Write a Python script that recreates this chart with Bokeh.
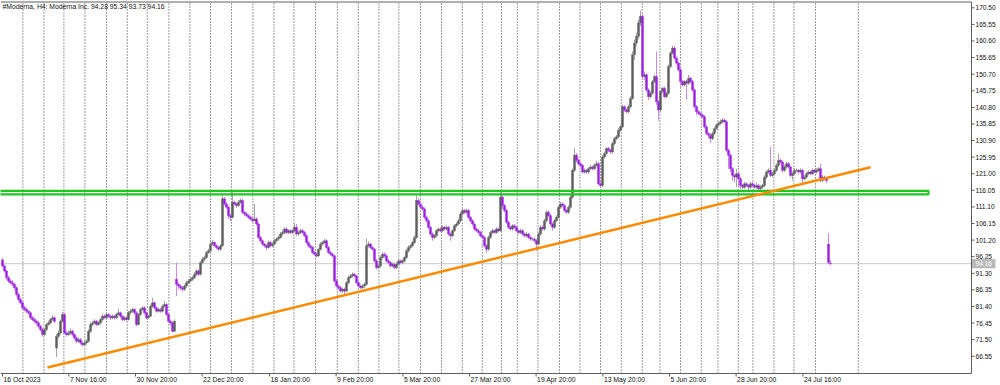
from bokeh.plotting import figure
from bokeh.models import Range1d, ColumnDataSource
from bokeh.core.properties import value
from bokeh.embed import file_html
from bokeh.resources import INLINE

# ---------------- data ----------------
opens = [
 95.3, 93.5, 92.0, 90.0, 89.0, 88.5, 88.0, 87.0, 85.0, 83.5,
 82.5, 81.0, 80.5, 80.0, 79.5, 78.0, 77.5, 77.0, 76.5, 75.5,
 74.5, 73.0, 74.5, 76.0, 76.5, 77.5, 78.0, 69.0, 72.5, 73.5,
 77.0, 79.0, 73.5, 73.0, 73.5, 74.0, 73.0, 72.0, 71.0, 71.5,
 70.5, 70.0, 70.5, 71.0, 74.0, 76.0, 76.5, 77.0, 76.0, 76.5,
 77.5, 78.5, 78.0, 79.0, 78.5, 78.0, 78.5, 78.0, 79.0, 79.5,
 78.5, 77.5, 78.0, 77.5, 79.5, 80.0, 80.5, 79.5, 76.0, 79.0,
 80.5, 81.0, 79.5, 78.0, 78.5, 81.5, 82.5, 81.0, 80.0, 80.5,
 80.0, 81.5, 82.0, 79.0, 77.0, 76.5, 74.0, 89.5, 88.0, 87.5,
 87.0, 86.5, 87.5, 88.5, 89.0, 89.5, 90.0, 91.0, 92.0, 91.0,
 94.5, 95.5, 96.0, 97.5, 98.0, 100.0, 100.5, 99.5, 99.0, 98.5,
 99.5, 113.5, 112.0, 111.0, 108.5, 108.0, 112.5, 112.0, 111.5, 112.5,
 113.0, 109.5, 109.0, 108.5, 108.0, 107.5, 107.0, 107.5, 106.0, 102.0,
 101.0, 100.0, 99.5, 99.0, 100.5, 99.5, 100.0, 101.0, 101.5, 102.0,
 103.0, 103.5, 104.5, 103.5, 104.0, 103.5, 104.0, 105.0, 103.0, 103.5,
 104.0, 103.5, 102.5, 100.5, 99.5, 99.0, 97.5, 97.0, 96.5, 98.5,
 100.0, 100.5, 101.0, 99.0, 97.5, 97.0, 96.5, 89.0, 87.5, 87.0,
 86.0, 86.5, 86.0, 88.5, 90.0, 90.5, 91.0, 90.5, 88.5, 87.5,
 87.0, 87.5, 88.0, 99.5, 100.0, 99.0, 98.5, 95.0, 93.0, 93.5,
 96.0, 97.0, 96.5, 95.0, 94.5, 93.5, 94.0, 93.0, 94.0, 95.0,
 94.5, 95.0, 96.0, 98.0, 99.0, 99.5, 100.5, 102.0, 113.0, 112.0,
 111.0, 110.5, 108.0, 107.0, 105.0, 103.0, 102.0, 102.5, 104.0, 104.5,
 104.0, 105.0, 104.5, 105.0, 103.0, 102.5, 104.0, 105.5, 106.0, 107.0,
 109.0, 110.0, 109.5, 110.0, 108.0, 107.0, 106.0, 104.5, 104.0, 103.5,
 102.5, 102.0, 99.5, 98.5, 102.0, 103.5, 104.0, 103.5, 104.5, 104.0,
 114.0, 111.5, 110.0, 106.5, 105.0, 104.5, 105.5, 105.0, 104.0, 103.5,
 104.0, 103.0, 102.5, 103.0, 102.0, 101.5, 101.5, 101.0, 100.0, 103.0,
 105.0, 104.5, 107.0, 109.5, 108.5, 106.0, 105.0, 107.0, 108.0, 111.0,
 112.0, 111.5, 110.0, 109.5, 111.0, 114.0, 122.0, 126.5, 125.0, 124.0,
 123.5, 121.5, 122.0, 121.5, 122.5, 123.0, 122.5, 123.5, 124.0, 118.0,
 117.5, 126.0, 127.0, 128.5, 128.0, 127.5, 130.0, 131.5, 132.0, 134.0,
 135.0, 141.0, 140.0, 139.5, 141.0, 143.5, 156.5, 160.0, 162.0, 166.0,
 168.0, 150.0, 150.5, 146.0, 144.0, 145.0, 148.5, 150.0, 142.5, 140.0,
 145.5, 146.5, 144.0, 145.0, 153.0, 157.0, 158.5, 155.5, 154.0, 152.0,
 148.5, 147.5, 148.5, 148.0, 149.5, 148.5, 146.0, 141.0, 139.5, 139.0,
 138.5, 138.0, 135.0, 133.0, 132.5, 131.5, 133.0, 134.5, 135.5, 136.0,
 136.5, 137.0, 136.5, 128.0, 126.5, 122.5, 120.5, 120.0, 121.0, 119.5,
 117.5, 117.0, 118.0, 117.5, 117.0, 118.0, 117.5, 117.0, 117.5, 116.5,
 117.0, 117.5, 120.0, 121.5, 122.0, 120.5, 121.0, 122.0, 123.5, 125.0,
 124.5, 122.0, 123.0, 124.0, 123.0, 120.5, 121.0, 122.0, 122.0, 121.5,
 122.0, 119.5, 120.0, 121.0, 121.5, 121.0, 122.0, 121.5, 122.0, 122.5,
 119.0, 120.0, 119.5, 100.0, 94.28]

highs = [
 95.8, 94.0, 92.4, 90.6, 89.6, 89.3, 88.5, 87.4, 85.6, 84.0,
 83.0, 81.6, 81.2, 80.4, 79.9, 78.6, 78.2, 77.5, 77.0, 76.0,
 75.0, 75.0, 76.6, 77.2, 78.0, 78.8, 78.5, 73.2, 74.2, 77.5,
 79.8, 79.4, 74.2, 74.3, 74.8, 74.5, 73.4, 72.5, 72.2, 72.0,
 71.0, 71.2, 71.6, 74.6, 76.8, 77.2, 77.6, 77.4, 77.0, 78.0,
 79.2, 79.0, 79.6, 79.4, 78.9, 79.0, 78.9, 79.6, 80.8, 79.9,
 78.8, 78.5, 78.4, 80.0, 80.6, 81.0, 80.9, 80.0, 79.4, 81.0,
 81.5, 81.4, 79.9, 78.9, 82.0, 84.0, 82.8, 81.4, 81.0, 80.9,
 82.0, 83.0, 82.4, 79.4, 77.5, 77.0, 77.5, 94.5, 88.5, 88.0,
 87.5, 88.0, 89.0, 89.6, 90.2, 90.5, 91.6, 92.6, 92.4, 95.0,
 96.2, 96.6, 98.0, 98.6, 100.6, 101.4, 100.9, 100.0, 99.4, 100.0,
 114.5, 114.0, 112.6, 111.5, 109.0, 115.5, 113.0, 112.4, 113.2, 113.6,
 113.5, 110.0, 109.6, 109.0, 108.5, 108.0, 112.0, 108.0, 106.5, 102.6,
 101.4, 100.5, 100.0, 101.0, 101.0, 100.6, 101.6, 102.0, 102.6, 103.6,
 104.2, 105.0, 105.0, 104.5, 104.4, 104.5, 106.2, 106.0, 104.0, 104.6,
 104.5, 104.0, 103.0, 101.0, 100.0, 99.5, 98.0, 97.6, 99.0, 100.6,
 101.0, 101.6, 101.4, 99.5, 98.0, 97.5, 96.8, 89.6, 88.0, 87.5,
 87.0, 87.0, 89.0, 90.6, 91.0, 91.6, 91.4, 90.8, 89.0, 88.0,
 88.0, 88.6, 101.7, 100.8, 100.4, 99.4, 98.8, 95.5, 94.2, 96.6,
 97.6, 97.5, 97.0, 95.5, 95.0, 94.6, 94.5, 94.6, 95.6, 95.4,
 95.6, 96.5, 98.6, 99.6, 100.0, 101.0, 102.6, 114.5, 113.6, 112.5,
 111.6, 111.0, 108.5, 107.5, 105.5, 103.5, 103.0, 104.6, 105.0, 105.0,
 105.6, 105.4, 105.6, 105.4, 103.5, 104.6, 106.0, 106.6, 107.6, 109.6,
 110.6, 110.5, 110.6, 110.5, 108.5, 107.4, 106.4, 105.0, 104.5, 104.0,
 103.0, 102.4, 100.0, 102.6, 104.0, 104.6, 104.4, 105.0, 105.0, 116.0,
 114.5, 112.0, 110.5, 107.0, 105.5, 106.0, 106.0, 105.5, 104.5, 104.6,
 104.5, 103.6, 103.6, 103.4, 102.5, 102.0, 102.0, 101.5, 103.6, 105.6,
 105.6, 107.6, 110.0, 110.0, 109.0, 106.5, 107.5, 108.6, 111.6, 112.6,
 112.5, 112.0, 110.5, 111.6, 114.6, 122.6, 128.8, 127.2, 125.6, 124.6,
 124.0, 122.6, 122.5, 123.0, 123.6, 123.4, 124.0, 124.8, 124.5, 118.5,
 126.6, 127.6, 129.0, 129.0, 128.5, 130.6, 132.0, 132.6, 134.6, 135.6,
 141.6, 141.4, 140.5, 141.6, 144.2, 157.5, 161.0, 163.0, 167.0, 169.7,
 168.5, 151.5, 151.0, 146.5, 145.6, 149.0, 150.6, 157.5, 143.0, 146.0,
 147.0, 147.0, 145.6, 153.6, 157.6, 159.2, 159.0, 156.0, 154.5, 152.5,
 149.0, 149.0, 149.0, 150.5, 150.0, 149.0, 146.5, 141.5, 140.0, 139.5,
 139.0, 138.5, 135.5, 133.5, 133.0, 133.6, 135.0, 136.0, 136.6, 137.2,
 137.6, 137.5, 137.0, 128.5, 127.0, 123.0, 121.0, 122.5, 121.5, 120.0,
 118.0, 118.6, 118.5, 118.0, 118.6, 118.5, 118.0, 118.4, 118.0, 117.6,
 118.0, 120.6, 122.0, 122.6, 129.0, 121.6, 122.5, 124.0, 127.0, 125.5,
 125.0, 123.6, 124.6, 124.5, 123.5, 121.6, 122.6, 122.6, 122.4, 122.6,
 122.5, 120.6, 121.6, 122.0, 122.0, 122.6, 122.4, 122.6, 123.0, 124.0,
 120.6, 120.4, 120.0, 103.2, 95.34]

lows = [
 93.0, 91.5, 89.4, 88.4, 88.0, 87.4, 86.2, 84.3, 82.8, 82.0,
 80.4, 80.0, 79.4, 78.8, 77.5, 77.0, 76.4, 75.9, 75.0, 73.9,
 72.4, 72.6, 74.0, 75.6, 76.0, 77.0, 76.4, 66.3, 71.8, 73.0,
 76.6, 73.0, 72.4, 72.6, 73.0, 72.5, 71.4, 70.4, 70.6, 70.0,
 69.4, 69.6, 70.0, 70.6, 73.5, 75.4, 76.0, 75.5, 75.6, 76.0,
 77.0, 77.6, 77.5, 78.0, 77.4, 77.6, 77.5, 77.6, 78.6, 78.0,
 77.0, 77.0, 77.0, 77.2, 79.0, 79.6, 79.0, 75.5, 75.8, 78.6,
 80.0, 79.0, 77.6, 77.6, 78.2, 81.0, 80.6, 79.6, 79.6, 79.5,
 79.6, 81.0, 78.6, 76.5, 75.8, 73.5, 73.8, 84.5, 86.5, 86.2,
 85.8, 86.0, 87.0, 88.0, 88.6, 89.0, 89.6, 90.5, 90.5, 90.6,
 94.0, 95.0, 95.6, 97.0, 97.6, 99.6, 99.0, 98.5, 98.0, 98.0,
 99.2, 111.5, 110.5, 107.5, 106.8, 107.6, 111.5, 110.8, 111.0, 112.0,
 109.0, 108.4, 108.0, 107.4, 107.0, 106.4, 106.8, 105.5, 101.5, 100.5,
 99.5, 99.0, 98.2, 98.6, 99.0, 99.0, 99.6, 100.5, 101.0, 101.6,
 102.5, 103.0, 103.0, 103.0, 103.0, 103.0, 103.6, 102.5, 102.5, 103.0,
 103.0, 102.0, 100.0, 99.0, 98.5, 97.0, 96.5, 96.0, 96.2, 98.0,
 99.5, 100.0, 98.5, 97.0, 96.5, 96.0, 88.5, 87.0, 86.4, 85.5,
 85.4, 85.0, 85.6, 88.0, 89.6, 90.0, 90.0, 88.0, 87.0, 86.5,
 86.6, 87.0, 87.6, 99.0, 98.6, 98.0, 94.5, 92.4, 92.5, 93.0,
 95.5, 96.0, 94.5, 94.0, 93.0, 93.0, 92.5, 92.6, 93.5, 94.0,
 94.0, 94.6, 95.6, 97.5, 98.5, 99.0, 100.0, 101.6, 111.5, 110.5,
 110.0, 107.5, 106.5, 104.5, 102.5, 101.0, 101.5, 102.0, 103.5, 103.5,
 103.5, 104.0, 104.0, 102.5, 101.0, 102.0, 103.6, 105.0, 105.6, 106.5,
 108.5, 109.0, 109.0, 107.5, 106.5, 105.5, 104.0, 103.5, 103.0, 102.0,
 101.5, 99.0, 97.4, 98.0, 101.5, 103.0, 103.0, 103.0, 103.5, 103.6,
 110.5, 109.5, 106.0, 104.5, 104.0, 104.0, 104.5, 103.5, 103.0, 103.0,
 102.5, 102.0, 102.0, 101.6, 101.0, 101.0, 100.5, 98.0, 99.6, 102.5,
 104.0, 104.0, 106.5, 108.0, 105.5, 104.0, 104.5, 106.5, 107.5, 110.5,
 111.0, 109.5, 109.0, 109.0, 110.5, 113.5, 121.5, 124.5, 123.5, 122.8,
 121.0, 121.0, 121.0, 121.0, 122.0, 122.0, 122.0, 123.0, 117.5, 117.0,
 117.0, 125.5, 126.5, 127.5, 127.0, 127.0, 129.5, 131.0, 131.5, 133.5,
 134.5, 139.5, 139.0, 139.0, 140.5, 143.0, 155.0, 159.0, 161.0, 165.0,
 149.0, 149.0, 145.5, 143.0, 143.5, 144.5, 148.0, 141.5, 136.8, 139.5,
 145.0, 143.5, 143.5, 144.5, 152.5, 156.5, 155.0, 153.5, 151.5, 147.0,
 147.0, 147.0, 143.0, 147.5, 148.0, 145.5, 140.5, 138.5, 138.5, 138.0,
 137.5, 134.5, 132.5, 131.5, 130.2, 131.0, 132.5, 134.0, 135.0, 135.5,
 136.0, 136.0, 127.5, 122.5, 121.5, 119.0, 118.5, 117.0, 117.0, 116.5,
 116.5, 116.5, 117.0, 116.0, 116.5, 117.0, 116.5, 116.5, 116.0, 116.0,
 116.5, 117.0, 119.5, 121.0, 120.0, 120.0, 120.5, 121.5, 123.0, 124.0,
 121.5, 121.5, 122.5, 122.5, 120.0, 119.0, 120.5, 121.5, 121.0, 121.0,
 117.5, 119.0, 119.5, 120.5, 120.5, 120.5, 121.0, 121.0, 121.5, 118.5,
 118.5, 119.0, 118.2, 94.0, 93.73]

closes = [
 93.5, 92.0, 90.0, 89.0, 88.5, 88.0, 87.0, 85.0, 83.5, 82.5,
 81.0, 80.5, 80.0, 79.5, 78.0, 77.5, 77.0, 76.5, 75.5, 74.5,
 73.0, 74.5, 76.0, 76.5, 77.5, 78.0, 77.0, 72.5, 73.5, 77.0,
 79.0, 73.5, 73.0, 73.5, 74.0, 73.0, 72.0, 71.0, 71.5, 70.5,
 70.0, 70.5, 71.0, 74.0, 76.0, 76.5, 77.0, 76.0, 76.5, 77.5,
 78.5, 78.0, 79.0, 78.5, 78.0, 78.5, 78.0, 79.0, 79.5, 78.5,
 77.5, 78.0, 77.5, 79.5, 80.0, 80.5, 79.5, 76.0, 79.0, 80.5,
 81.0, 79.5, 78.0, 78.5, 81.5, 82.5, 81.0, 80.0, 80.5, 80.0,
 81.5, 82.0, 79.0, 77.0, 76.5, 74.0, 77.0, 88.0, 87.5, 87.0,
 86.5, 87.5, 88.5, 89.0, 89.5, 90.0, 91.0, 92.0, 91.0, 94.5,
 95.5, 96.0, 97.5, 98.0, 100.0, 100.5, 99.5, 99.0, 98.5, 99.5,
 113.5, 112.0, 111.0, 108.5, 108.0, 112.5, 112.0, 111.5, 112.5, 113.0,
 109.5, 109.0, 108.5, 108.0, 107.5, 107.0, 107.5, 106.0, 102.0, 101.0,
 100.0, 99.5, 99.0, 100.5, 99.5, 100.0, 101.0, 101.5, 102.0, 103.0,
 103.5, 104.5, 103.5, 104.0, 103.5, 104.0, 105.0, 103.0, 103.5, 104.0,
 103.5, 102.5, 100.5, 99.5, 99.0, 97.5, 97.0, 96.5, 98.5, 100.0,
 100.5, 101.0, 99.0, 97.5, 97.0, 96.5, 89.0, 87.5, 87.0, 86.0,
 86.5, 86.0, 88.5, 90.0, 90.5, 91.0, 90.5, 88.5, 87.5, 87.0,
 87.5, 88.0, 99.5, 100.0, 99.0, 98.5, 95.0, 93.0, 93.5, 96.0,
 97.0, 96.5, 95.0, 94.5, 93.5, 94.0, 93.0, 94.0, 95.0, 94.5,
 95.0, 96.0, 98.0, 99.0, 99.5, 100.5, 102.0, 113.0, 112.0, 111.0,
 110.5, 108.0, 107.0, 105.0, 103.0, 102.0, 102.5, 104.0, 104.5, 104.0,
 105.0, 104.5, 105.0, 103.0, 102.5, 104.0, 105.5, 106.0, 107.0, 109.0,
 110.0, 109.5, 110.0, 108.0, 107.0, 106.0, 104.5, 104.0, 103.5, 102.5,
 102.0, 99.5, 98.5, 102.0, 103.5, 104.0, 103.5, 104.5, 104.0, 114.0,
 111.5, 110.0, 106.5, 105.0, 104.5, 105.5, 105.0, 104.0, 103.5, 104.0,
 103.0, 102.5, 103.0, 102.0, 101.5, 101.5, 101.0, 100.0, 103.0, 105.0,
 104.5, 107.0, 109.5, 108.5, 106.0, 105.0, 107.0, 108.0, 111.0, 112.0,
 111.5, 110.0, 109.5, 111.0, 114.0, 122.0, 126.5, 125.0, 124.0, 123.5,
 121.5, 122.0, 121.5, 122.5, 123.0, 122.5, 123.5, 124.0, 118.0, 117.5,
 126.0, 127.0, 128.5, 128.0, 127.5, 130.0, 131.5, 132.0, 134.0, 135.0,
 141.0, 140.0, 139.5, 141.0, 143.5, 156.5, 160.0, 162.0, 166.0, 168.0,
 150.0, 150.5, 146.0, 144.0, 145.0, 148.5, 150.0, 142.5, 140.0, 145.5,
 146.5, 144.0, 145.0, 153.0, 157.0, 158.5, 155.5, 154.0, 152.0, 148.5,
 147.5, 148.5, 148.0, 149.5, 148.5, 146.0, 141.0, 139.5, 139.0, 138.5,
 138.0, 135.0, 133.0, 132.5, 131.5, 133.0, 134.5, 135.5, 136.0, 136.5,
 137.0, 136.5, 128.0, 126.5, 122.5, 120.5, 120.0, 121.0, 119.5, 117.5,
 117.0, 118.0, 117.5, 117.0, 118.0, 117.5, 117.0, 117.5, 116.5, 117.0,
 117.5, 120.0, 121.5, 122.0, 120.5, 121.0, 122.0, 123.5, 125.0, 124.5,
 122.0, 123.0, 124.0, 123.0, 120.5, 121.0, 122.0, 122.0, 121.5, 122.0,
 119.5, 120.0, 121.0, 121.5, 121.0, 122.0, 121.5, 122.0, 122.5, 119.0,
 120.0, 119.5, 119.0, 94.5, 94.16]

price_ticks = [66.55, 71.50, 76.45, 81.40, 86.35, 91.30, 96.25, 101.20, 106.15,
               111.10, 116.05, 121.00, 125.95, 130.90, 135.85, 140.80, 145.75,
               150.70, 155.65, 160.60, 165.55, 170.50]
time_tick_bars = [0, 33.2, 66.5, 99.8, 133.5, 166.8, 200.2, 233.5, 266.8, 300.2, 333.5, 366.8, 400.2]
time_tick_labels = ["16 Oct 2023", "7 Nov 16:00", "30 Nov 20:00", "22 Dec 20:00",
                    "18 Jan 20:00", "9 Feb 20:00", "5 Mar 20:00", "27 Mar 20:00",
                    "19 Apr 20:00", "13 May 20:00", "5 Jun 20:00", "28 Jun 20:00",
                    "24 Jul 16:00"]
week_bars = [10.2, 20.7, 30.7, 41.2, 52.0, 62.4, 72.4, 83.2, 93.7, 104.0, 114.5,
             125.2, 135.7, 145.7, 156.5, 167.4, 177.9, 188.2, 198.2, 209.0, 219.5,
             229.9, 239.9, 249.5, 257.4, 267.7, 278.5, 288.7, 299.0, 309.4, 319.9,
             328.7, 339.0, 349.4, 357.7, 367.9, 375.2, 385.7, 395.7, 406.5, 427.9]
zone_low, zone_high = 114.86, 115.9
zone_start_bar, zone_end_bar = -1.5, 463.0
trend_bars = [22.5, 434.0]
trend_prices = [63.2, 122.9]
last_price = 94.16
title_text = "#Moderna, H4:  Moderna Inc.   94.28 95.34 93.73 94.16"

# ---------------- layout of the chart window (in bar / price units) ----------------
# whole canvas; the price scale and time scale live inside it, as in the terminal
canvas_x = (-1.0, 499.0)
canvas_y = (57.82, 172.68)
chart_left, chart_right = -1.0, 484.5     # plotting area (bars)
chart_bottom, chart_top = 61.40, 172.23   # plotting area (price)

W, H = 1000, 385
px_x = (canvas_x[1] - canvas_x[0]) / W    # bars per pixel
px_y = (canvas_y[1] - canvas_y[0]) / H    # price per pixel

FONT = "Liberation Sans"
AXIS_COLOR = "#5e5e5e"
BULL_BODY, BULL_WICK = "#5c5c5c", "#a6a6a6"
BEAR_BODY, BEAR_WICK = "#9b1ee0", "#c98ae8"

idx = list(range(len(closes)))
is_bear = [c < o for o, c in zip(opens, closes)]
src = ColumnDataSource(dict(
    x=idx,
    top=[max(o, c) for o, c in zip(opens, closes)],
    bottom=[min(o, c) for o, c in zip(opens, closes)],
    high=highs, low=lows,
    body=[BEAR_BODY if b else BULL_BODY for b in is_bear],
    wick=[BEAR_WICK if b else BULL_WICK for b in is_bear],
))

p = figure(width=W, height=H, output_backend="svg", toolbar_location=None,
           x_range=Range1d(*canvas_x), y_range=Range1d(*canvas_y),
           x_axis_location=None, y_axis_location=None,
           min_border_left=0, min_border_top=0, min_border_right=0, min_border_bottom=0,
           background_fill_color="white", border_fill_color="white",
           outline_line_color=None)
p.grid.visible = False

# weekly dotted separators
n_w = len(week_bars)
p.segment(x0=week_bars, y0=[chart_bottom] * n_w, x1=week_bars, y1=[chart_top] * n_w,
          line_color="#3a3a3a", line_width=1, line_dash="1 2")

# current price line
p.segment(x0=[chart_left], y0=[last_price], x1=[chart_right], y1=[last_price],
          line_color="#c8c8c8", line_width=1)

# candles
p.segment(x0="x", y0="low", x1="x", y1="high", source=src, line_color="wick", line_width=1)
p.vbar(x="x", width=1.0, top="top", bottom="bottom", source=src,
       fill_color="body", line_color="body", line_width=0.4)

# support zone (unfilled rectangle)
p.quad(left=[zone_start_bar], right=[zone_end_bar], bottom=[zone_low], top=[zone_high],
       fill_alpha=0, line_color="#1ec81e", line_width=2.2)

# trend line
p.line(trend_bars, trend_prices, line_color="#ff8a00", line_width=2.6)

# chart frame: top, right (price scale line), bottom (time scale line)
p.segment(x0=[chart_left, chart_right, chart_left], y0=[chart_top, chart_bottom, chart_bottom],
          x1=[chart_right, chart_right, chart_right], y1=[chart_top, chart_top, chart_bottom],
          line_color=AXIS_COLOR, line_width=1)

# price scale: ticks + labels
n_p = len(price_ticks)
tick_len_x = 3 * px_x
p.segment(x0=[chart_right] * n_p, y0=price_ticks, x1=[chart_right + tick_len_x] * n_p, y1=price_ticks,
          line_color=AXIS_COLOR, line_width=1)
p.text(x=[chart_right] * n_p, y=price_ticks, text=[f"{t:.2f}" for t in price_ticks],
       x_offset=4, text_font=value(FONT), text_font_size=value("6.6px"), text_color="#111111",
       text_baseline="middle", text_align="left")

# current price tag
p.quad(left=[chart_right + 0.5 * px_x], right=[chart_right + 24 * px_x],
       bottom=[last_price - 4.6 * px_y], top=[last_price + 4.6 * px_y],
       fill_color="#b9b9b9", line_color=None)
p.text(x=[chart_right], y=[last_price], text=[f"{last_price:.2f}"], x_offset=4,
       text_font=value(FONT), text_font_size=value("6.6px"), text_color="white",
       text_baseline="middle", text_align="left")

# time scale: ticks + left-aligned labels
n_t = len(time_tick_bars)
tick_len_y = 3 * px_y
p.segment(x0=time_tick_bars, y0=[chart_bottom] * n_t, x1=time_tick_bars, y1=[chart_bottom - tick_len_y] * n_t,
          line_color=AXIS_COLOR, line_width=1)
p.text(x=time_tick_bars, y=[chart_bottom] * n_t, text=time_tick_labels,
       x_offset=1, y_offset=2, text_font=value(FONT), text_font_size=value("6.8px"),
       text_color="#111111", text_baseline="top", text_align="left")

# header text
p.text(x=[chart_left], y=[chart_top], text=[title_text], x_offset=2, y_offset=1,
       text_font=value(FONT), text_font_size=value("6.8px"), text_color="#111111",
       text_baseline="top", text_align="left")

open("out.html", "w").write(file_html(p, INLINE))
